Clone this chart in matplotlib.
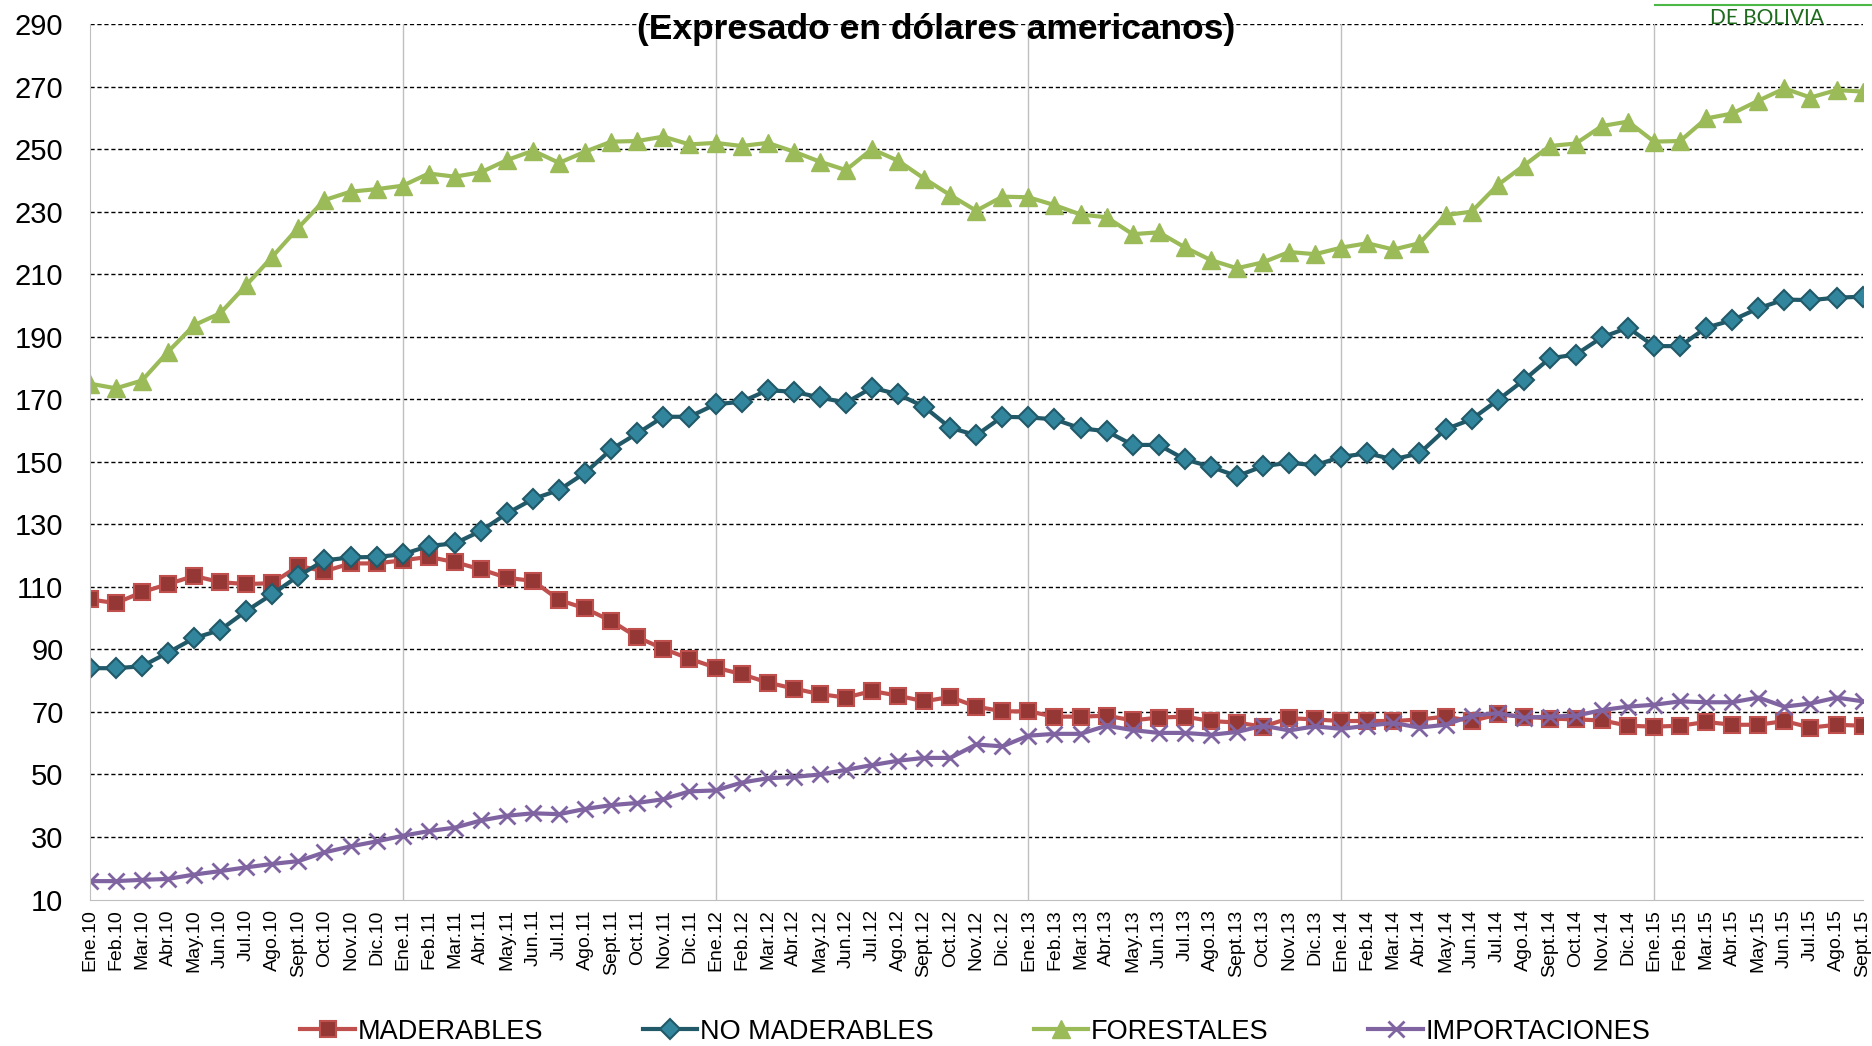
import matplotlib
matplotlib.use("Agg")
import matplotlib.pyplot as plt
from matplotlib.patches import Rectangle

plt.rcParams['font.family'] = ['Liberation Sans', 'DejaVu Sans']

# meses Ene.10 .. Sept.15
meses = ["Ene", "Feb", "Mar", "Abr", "May", "Jun", "Jul", "Ago", "Sept", "Oct", "Nov", "Dic"]
etiquetas = [f"{m}.{a}" for a in range(10, 16) for m in meses][:69]

maderables = [106, 104.8, 108.3, 110.9, 113.5, 111.5, 110.9, 111.2, 116.7, 115, 117.5, 117.5,
              118.5, 119.6, 117.9, 115.6, 112.9, 111.9, 105.8, 103.1, 99.1, 93.9, 90.2, 87,
              84.2, 82.1, 79.4, 77.5, 75.7, 74.6, 76.7, 75.2, 73.4, 74.8, 71.7, 70.2,
              70.2, 68.5, 68.5, 68.8, 67.3, 68.2, 68.5, 67.1, 66.6, 65.3, 68, 67.6,
              67.1, 67.1, 67.1, 67.6, 68.5, 67.1, 69.2, 68.5, 67.9, 67.6, 67.3, 65.6,
              65.3, 65.6, 66.8, 65.9, 65.9, 67.1, 65, 65.9, 65.6]

no_maderables = [84, 84, 84.6, 89, 93.6, 96.2, 102.3, 107.7, 113.5, 118.5, 119.4, 119.6,
                 120.4, 123.1, 123.9, 127.9, 133.5, 138.1, 141, 146.5, 154, 159.1, 164.4, 164.4,
                 168.4, 169.2, 172.9, 172.4, 170.6, 168.9, 173.7, 171.6, 167.6, 160.9, 158.5, 164.4,
                 164.2, 163.6, 160.7, 159.8, 155.4, 155.4, 150.8, 148.4, 145.4, 148.6, 149.7, 148.9,
                 151.6, 152.7, 150.8, 152.7, 160.4, 163.6, 169.7, 176.1, 183.1, 184.3, 189.8, 192.9,
                 187, 187, 192.9, 195.3, 199.1, 201.9, 201.7, 202.5, 202.8]

forestales = [175, 173.5, 176, 185.2, 193.7, 197.5, 206.5, 215.6, 224.9, 233.7, 236.4, 237.2,
              238.3, 242.2, 241.2, 242.6, 246.5, 249.5, 245.6, 249.2, 252.4, 252.6, 254, 251.5,
              252, 251, 252, 249.2, 246, 243.3, 250, 246.3, 240.6, 235.3, 230.3, 234.8,
              234.6, 232.1, 229.1, 228.2, 222.8, 223.4, 218.6, 214.5, 211.9, 213.8, 217.1, 216.4,
              218.5, 219.9, 217.9, 219.9, 228.9, 230, 238.5, 244.7, 251, 251.8, 257.4, 258.8,
              252.4, 252.6, 259.8, 261.4, 265.5, 269.4, 266.5, 268.9, 268.4]

importaciones = [15.9, 15.9, 16.3, 16.6, 18, 19.1, 20.3, 21.4, 22.3, 25.1, 27, 28.6,
                 30.4, 31.9, 33, 35.3, 36.8, 37.6, 37.3, 39, 40.2, 40.9, 42.1, 44.6,
                 44.9, 47.4, 48.8, 49.2, 50, 51.5, 53, 54.4, 55.3, 55.3, 59.6, 59,
                 62.4, 63, 63, 65.6, 64.2, 63.3, 63.3, 62.7, 63.6, 65.6, 64.1, 65.4,
                 64.6, 65.6, 66.5, 65, 65.9, 68.8, 69.6, 68.2, 68.5, 68.8, 70.6, 71.7,
                 72.3, 73.4, 73.1, 73.1, 74.6, 71.7, 72.7, 74.6, 73.4]

x = list(range(len(etiquetas)))

fig = plt.figure(figsize=(18.72, 10.46), dpi=100)
ax = fig.add_axes([0.048, 0.140, 0.947, 0.837])

ax.plot(x, maderables, color="#C0504D", lw=3, marker="s", ms=12,
        mfc="#953735", mec="#C0504D", mew=1.5, label="MADERABLES")
ax.plot(x, no_maderables, color="#215968", lw=3, marker="D", ms=10,
        mfc="#31859C", mec="#215968", mew=1.5, label="NO MADERABLES")
ax.plot(x, forestales, color="#9BBB59", lw=3, marker="^", ms=13,
        mfc="#9BBB59", mec="#9BBB59", label="FORESTALES")
ax.plot(x, importaciones, color="#8064A2", lw=3, marker="x", ms=12,
        mew=2, label="IMPORTACIONES")

ax.set_xlim(0, len(x) - 1)
ax.set_ylim(10, 290)
ax.set_yticks(range(10, 291, 20))
ax.set_xticks(x)
ax.set_xticklabels(etiquetas, rotation=90, fontsize=14)
ax.tick_params(axis="y", labelsize=21, length=0, pad=19)
ax.tick_params(axis="x", length=0, pad=7)

# lineas horizontales punteadas
for v in range(30, 291, 20):
    ax.axhline(v, color="black", lw=1, ls=(0, (3, 2)), zorder=0)
# separadores por año
for i in range(12, len(x), 12):
    ax.axvline(i, color="#BFBFBF", lw=1, zorder=0)

for s in ["top", "right"]:
    ax.spines[s].set_visible(False)
ax.spines["left"].set_color("#BFBFBF")
ax.spines["bottom"].set_color("#BFBFBF")

fig.text(0.5, 0.972, "(Expresado en dólares americanos)", ha="center", va="center",
         fontsize=25.5, fontweight="bold")

# logo cortado arriba a la derecha
fig.text(0.944, 0.977, "DE BOLIVIA", ha="center", va="baseline", fontsize=15,
         color="#1E6B1E", family=["Lato", "DejaVu Sans"])
fig.add_artist(Rectangle((0.9, 0.988), 0.09, 0.012, transform=fig.transFigure,
                         facecolor="white", edgecolor="none"))
fig.add_artist(plt.Line2D([0.884, 1.0], [0.995, 0.995], color="#4CB848", lw=1.5))

fig.legend(loc="center", bbox_to_anchor=(0.521, 0.0135), ncol=4, frameon=False,
           fontsize=19.5, handlelength=2.0, columnspacing=3.7, handletextpad=0.1,
           borderaxespad=0, borderpad=0.1)

fig.savefig("out.png", dpi=100)
